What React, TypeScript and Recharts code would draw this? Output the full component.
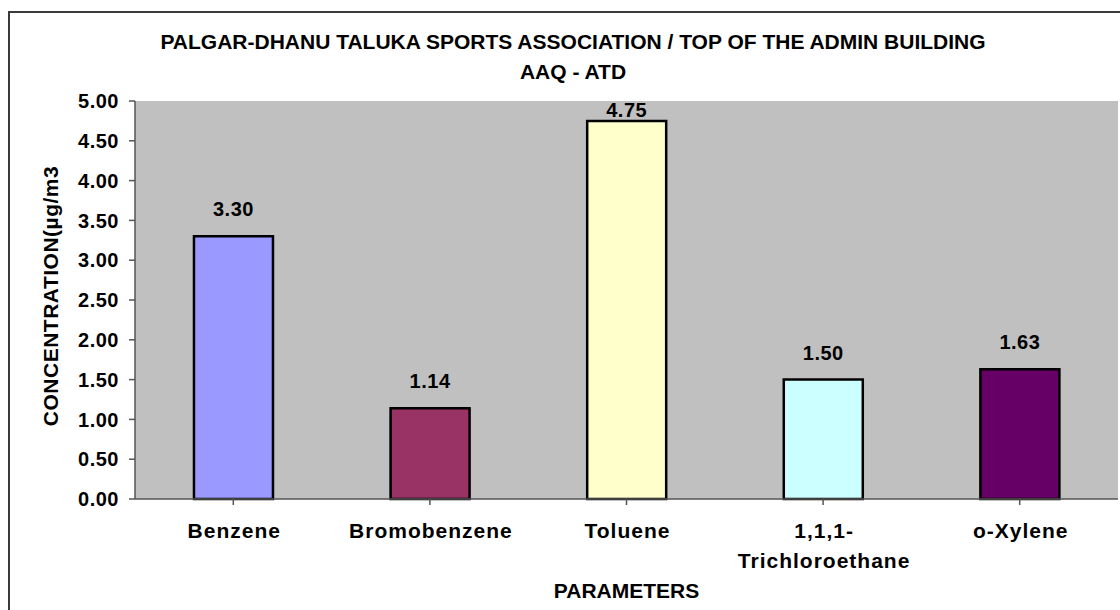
import { BarChart, Bar, Cell, XAxis, YAxis, CartesianGrid, LabelList } from 'recharts'

const CATEGORIES = ['Benzene', 'Bromobenzene', 'Toluene', '1,1,1-Trichloroethane', 'o-Xylene']
const VALUES = [3.3, 1.14, 4.75, 1.5, 1.63]
const BAR_COLORS = ['#9999FF', '#993366', '#FFFFCC', '#CCFFFF', '#660066']
const Y_TICKS = [0, 0.5, 1, 1.5, 2, 2.5, 3, 3.5, 4, 4.5, 5]

const TITLE = 'PALGAR-DHANU TALUKA SPORTS ASSOCIATION / TOP OF THE ADMIN BUILDING'
const SUBTITLE = 'AAQ - ATD'
const Y_TITLE = 'CONCENTRATION(µg/m3'
const X_TITLE = 'PARAMETERS'

const FONT = '"Liberation Sans", Arial, sans-serif'
const W = 1120
const H = 610
const PLOT_TOP = 101

const data = CATEGORIES.map((name, i) => ({ name, value: VALUES[i] }))

// split long hyphenated names onto two lines like the original
function splitLabel(s: string): string[] {
  const i = s.indexOf('-')
  if (s.length > 12 && i > 0) return [s.slice(0, i + 1), s.slice(i + 1)]
  return [s]
}

function CategoryTick(props: any) {
  const { x, y, payload } = props
  const lines = splitLabel(String(payload.value))
  return (
    <text
      x={x}
      y={y}
      textAnchor="middle"
      fontFamily={FONT}
      fontSize={21}
      fontWeight="bold"
      letterSpacing={1}
      fill="#000"
    >
      {lines.map((l, i) => (
        <tspan key={i} x={x + 1} dy={i === 0 ? '0.71em' : 30}>
          {l}
        </tspan>
      ))}
    </text>
  )
}

function ValueLabel(props: any) {
  const { x, y, width, value } = props
  const base = Math.max(Number(y) - 20, PLOT_TOP + 16)
  return (
    <text
      x={Number(x) + Number(width) / 2}
      y={base}
      textAnchor="middle"
      fontFamily={FONT}
      fontSize={20}
      fontWeight="bold"
      letterSpacing={0.5}
      fill="#000"
    >
      {Number(value).toFixed(2)}
    </text>
  )
}

export default function App() {
  return (
    <div
      style={{
        position: 'absolute',
        left: 0,
        top: 0,
        width: W,
        height: H,
        overflow: 'hidden',
        background: '#fff',
        fontFamily: FONT,
      }}
    >
      <div
        style={{
          position: 'absolute',
          left: 8,
          top: 11,
          width: W + 100,
          height: H + 100,
          border: '2px solid #3a3a3a',
        }}
      />
      <div
        style={{
          position: 'absolute',
          left: 0,
          top: 27,
          width: 1146,
          textAlign: 'center',
          fontSize: 21,
          fontWeight: 'bold',
          lineHeight: '30px',
          color: '#000',
          whiteSpace: 'nowrap',
        }}
      >
        <div>{TITLE}</div>
        <div>{SUBTITLE}</div>
      </div>
      <div style={{ position: 'absolute', left: 0, top: 0 }}>
        <BarChart
          width={W}
          height={H}
          data={data}
          margin={{ top: PLOT_TOP, right: 2, left: 0, bottom: 0 }}
          barCategoryGap="30%"
        >
          <CartesianGrid fill="#C0C0C0" horizontal={false} vertical={false} />
          <XAxis
            dataKey="name"
            height={111}
            interval={0}
            tickSize={6}
            tickMargin={18}
            tick={<CategoryTick />}
            tickLine={{ stroke: '#555', strokeWidth: 1.5 }}
            axisLine={{ stroke: '#555', strokeWidth: 1.5 }}
            label={{
              value: X_TITLE,
              position: 'insideBottom',
              offset: 12,
              style: { fontFamily: FONT, fontSize: 21, fontWeight: 'bold', fill: '#000' },
            }}
          />
          <XAxis
            xAxisId="top"
            orientation="top"
            dataKey="name"
            height={0}
            tick={false}
            tickLine={false}
            axisLine={{ stroke: '#808080', strokeWidth: 1.5 }}
          />
          <YAxis
            width={135}
            domain={[0, 5]}
            ticks={Y_TICKS}
            interval={0}
            tickSize={6}
            tickMargin={10}
            tickFormatter={(v: number) => v.toFixed(2)}
            tick={{ fontFamily: FONT, fontSize: 20, fontWeight: 'bold', fill: '#000', letterSpacing: 0.5 }}
            tickLine={{ stroke: '#555', strokeWidth: 1.5 }}
            axisLine={{ stroke: '#555', strokeWidth: 1.5 }}
            label={{
              value: Y_TITLE,
              angle: -90,
              position: 'center',
              dx: -17,
              dy: -4,
              style: { fontFamily: FONT, fontSize: 21, fontWeight: 'bold', fill: '#000', letterSpacing: 0.5 },
            }}
          />
          <YAxis
            yAxisId="right"
            orientation="right"
            width={0}
            domain={[0, 5]}
            tick={false}
            tickLine={false}
            axisLine={{ stroke: '#808080', strokeWidth: 1.5 }}
          />
          <Bar dataKey="value" stroke="#000" strokeWidth={2.5} isAnimationActive={false}>
            {data.map((d, i) => (
              <Cell key={d.name} fill={BAR_COLORS[i]} />
            ))}
            <LabelList dataKey="value" content={<ValueLabel />} />
          </Bar>
        </BarChart>
      </div>
    </div>
  )
}
